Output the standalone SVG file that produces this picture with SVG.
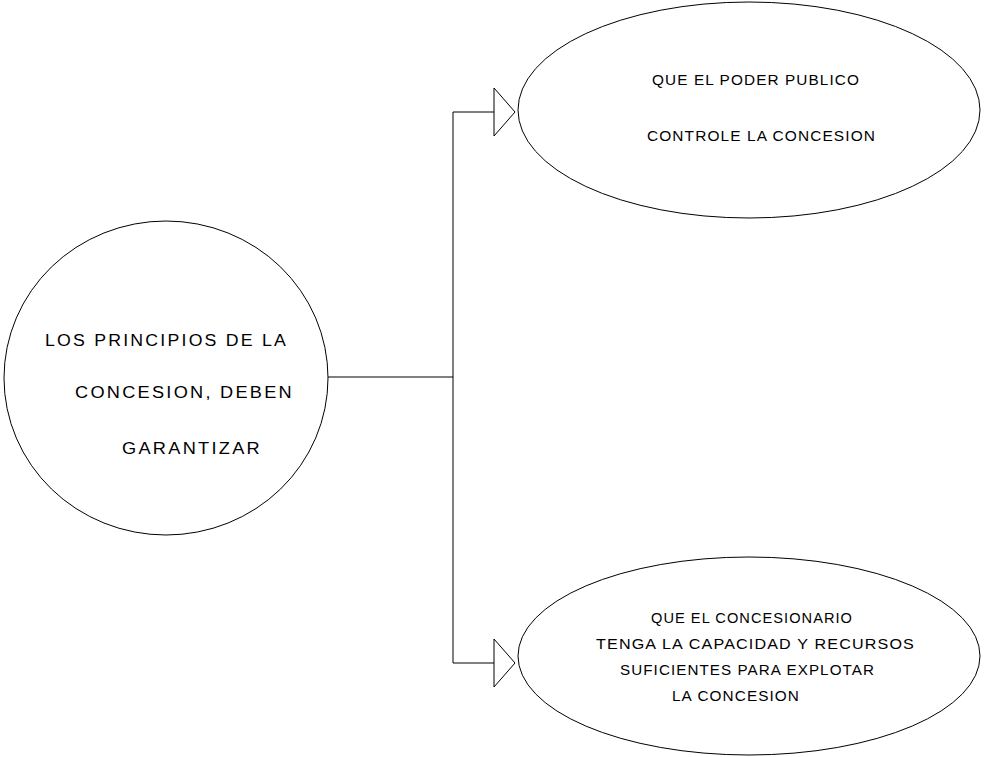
<svg xmlns="http://www.w3.org/2000/svg" width="985" height="757" viewBox="0 0 985 757">
  <style>
    .shape { fill: #ffffff; stroke: #000000; stroke-width: 1; }
    .wire { fill: none; stroke: #000000; stroke-width: 1; }
    .label { font-family: "Liberation Sans", Arial, sans-serif; font-size: 14px; letter-spacing: 1px; fill: #000000; }
    .big { font-size: 16px; letter-spacing: 2px; }
  </style>
  <defs>
    <!-- open triangular arrowhead, tip at origin -->
    <polygon id="tri" points="-21,-24 0,0 -21,24" class="shape"/>
  </defs>
  <rect width="985" height="757" fill="#ffffff"/>

  <g id="connectors">
    <polyline class="wire" points="328,377 453,377"/>
    <polyline class="wire" points="494,112 453,112 453,663 494,663"/>
    <use href="#tri" x="515" y="112"/>
    <use href="#tri" x="515" y="663"/>
  </g>

  <g id="principios">
    <ellipse class="shape" cx="166" cy="378" rx="162" ry="157"/>
    <text class="label big" x="45" y="346" textLength="243" lengthAdjust="spacingAndGlyphs">LOS PRINCIPIOS DE LA</text>
    <text class="label big" x="75" y="398" textLength="219" lengthAdjust="spacingAndGlyphs">CONCESION, DEBEN</text>
    <text class="label big" x="122" y="454" textLength="140" lengthAdjust="spacingAndGlyphs">GARANTIZAR</text>
  </g>

  <g id="poder-publico">
    <ellipse class="shape" cx="749" cy="110" rx="231" ry="108"/>
    <text class="label" x="652" y="85" textLength="208" lengthAdjust="spacingAndGlyphs">QUE EL PODER PUBLICO</text>
    <text class="label" x="647" y="141" textLength="229" lengthAdjust="spacingAndGlyphs">CONTROLE LA CONCESION</text>
  </g>

  <g id="concesionario">
    <ellipse class="shape" cx="749" cy="656" rx="231" ry="99"/>
    <text class="label" x="651" y="623" textLength="202" lengthAdjust="spacingAndGlyphs">QUE EL CONCESIONARIO</text>
    <text class="label" x="596" y="649" textLength="319" lengthAdjust="spacingAndGlyphs">TENGA LA CAPACIDAD Y RECURSOS</text>
    <text class="label" x="620" y="675" textLength="255" lengthAdjust="spacingAndGlyphs">SUFICIENTES PARA EXPLOTAR</text>
    <text class="label" x="672" y="701" textLength="128" lengthAdjust="spacingAndGlyphs">LA CONCESION</text>
  </g>
</svg>
